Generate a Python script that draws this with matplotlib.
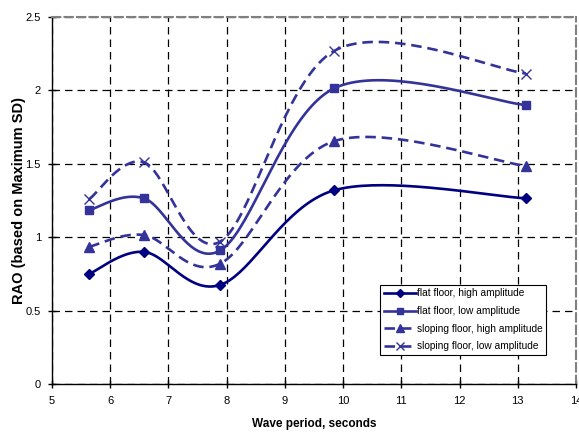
import numpy as np
import matplotlib
matplotlib.use("Agg")
import matplotlib.pyplot as plt

plt.rcParams['font.family'] = ['Liberation Sans', 'DejaVu Sans']

# data
periods = [5.64, 6.58, 7.89, 9.85, 13.14]
flat_high = [0.75, 0.90, 0.675, 1.32, 1.265]
flat_low = [1.185, 1.265, 0.91, 2.015, 1.90]
slope_high = [0.935, 1.015, 0.82, 1.655, 1.485]
slope_low = [1.26, 1.51, 0.97, 2.27, 2.115]

series_names = ['flat floor, high amplitude', 'flat floor, low amplitude',
                'sloping floor, high amplitude', 'sloping floor, low amplitude']


def smooth(x, y, n=40):
    # Catmull-Rom style smoothing like spreadsheet "smoothed line"
    x = np.asarray(x, float)
    y = np.asarray(y, float)
    px = np.concatenate([[x[0]], x, [x[-1]]])
    py = np.concatenate([[y[0]], y, [y[-1]]])
    xs, ys = [], []
    t = np.linspace(0, 1, n)
    for i in range(1, len(px) - 2):
        p0 = np.array([px[i], py[i]])
        p3 = np.array([px[i + 1], py[i + 1]])
        c1 = p0 + (np.array([px[i + 1], py[i + 1]]) - np.array([px[i - 1], py[i - 1]])) / 6
        c2 = p3 - (np.array([px[i + 2], py[i + 2]]) - np.array([px[i], py[i]])) / 6
        b = ((1 - t) ** 3)[:, None] * p0 + (3 * (1 - t) ** 2 * t)[:, None] * c1 \
            + (3 * (1 - t) * t ** 2)[:, None] * c2 + (t ** 3)[:, None] * p3
        xs.append(b[:, 0])
        ys.append(b[:, 1])
    return np.concatenate(xs), np.concatenate(ys)


fig = plt.figure(figsize=(5.79, 4.33), dpi=100)
ax = fig.add_axes([0.0898, 0.1132, 0.905, 0.8475])

styles = [
    dict(color='#000080', ls='-', marker='D', ms=5.5, mfc='#000080'),
    dict(color='#333399', ls='-', marker='s', ms=6, mfc='#333399'),
    dict(color='#333399', ls=(0, (4, 2.2)), marker='^', ms=6.5, mfc='#333399'),
    dict(color='#333399', ls=(0, (4, 2.2)), marker='x', ms=6.5, mfc='#333399'),
]

for yvals, name, st in zip([flat_high, flat_low, slope_high, slope_low], series_names, styles):
    sx, sy = smooth(periods, yvals)
    ax.plot(sx, sy, color=st['color'], ls=st['ls'], lw=1.9, zorder=3)
    ax.plot(periods, yvals, ls='none', marker=st['marker'], ms=st['ms'],
            color=st['color'], mfc=st['mfc'], mew=1.0, zorder=4)
    # legend proxy
    ax.plot([], [], color=st['color'], ls=st['ls'], lw=1.9, marker=st['marker'],
            ms=st['ms'] - 1, mew=1.0, label=name)

ax.set_xlim(5, 14)
ax.set_ylim(0, 2.5)
ax.set_xticks(range(5, 15))
ax.set_yticks([0, 0.5, 1, 1.5, 2, 2.5])
ax.set_yticklabels(['0', '0.5', '1', '1.5', '2', '2.5'])
ax.tick_params(direction='inout', length=6, width=1, labelsize=8, colors='black')
ax.tick_params(axis='x', pad=6)
ax.tick_params(axis='y', pad=5)

ax.grid(True, color='black', ls=(0, (6, 4)), lw=0.9)
ax.set_axisbelow(True)

for s in ['left', 'bottom']:
    ax.spines[s].set_color('black')
    ax.spines[s].set_linewidth(1.0)
for s in ['top', 'right']:
    ax.spines[s].set_color('#808080')
    ax.spines[s].set_linewidth(1.5)
    ax.spines[s].set_linestyle((0, (4, 2)))

ax.set_xlabel('Wave period, seconds', fontsize=8.5, fontweight='bold', labelpad=8)
ax.set_ylabel('RAO (based on Maximum SD)', fontsize=10.5, fontweight='bold', labelpad=0)

leg = ax.legend(loc='upper left', bbox_to_anchor=(0.626, 0.27), fontsize=7.3,
                frameon=True, fancybox=False, edgecolor='black', framealpha=1,
                handlelength=3.2, handletextpad=0.05, borderpad=0.35, labelspacing=0.75,
                borderaxespad=0)
leg.get_frame().set_linewidth(0.8)

fig.savefig('out.png', dpi=100)
